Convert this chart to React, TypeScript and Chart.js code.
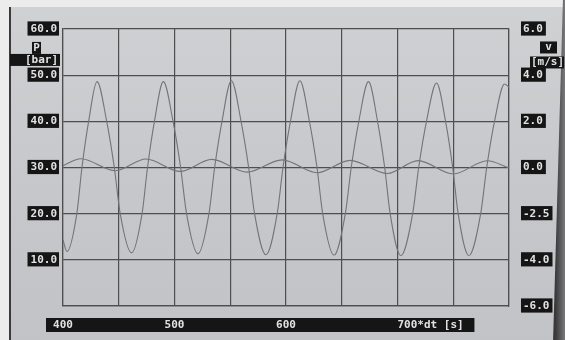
import React, { useEffect, useRef } from "react";
import { Chart, registerables } from "chart.js";

Chart.register(...registerables);

// Pressure p [bar] (left axis)
const pressureX = [
  400, 403.5, 412.4, 417, 423, 430.5, 439.2, 446, 451.3, 461.5,
  470.9, 475.8, 482, 490, 498.7, 505.5, 510.8, 521,
  530.9, 536, 542.6, 551, 559.7, 566.5, 571.8, 582,
  592.1, 597.3, 604, 612.5, 621, 627.8, 632.9, 643,
  653.2, 658.5, 665.3, 674, 682.1, 688.5, 693.4, 703,
  713.6, 719, 726, 735, 743.1, 749.5, 754.4, 764,
  774.6, 780, 787, 796, 800,
];
const pressureY = [
  14.3, 11.8, 20, 30, 40, 48.6, 40, 30, 20, 11.5,
  20, 30, 40, 48.6, 40, 30, 20, 11.3,
  20, 30, 40, 48.8, 40, 30, 20, 11.1,
  20, 30, 40, 48.8, 40, 30, 20, 11.0,
  20, 30, 40, 48.6, 40, 30, 20, 10.9,
  20, 30, 40, 48.3, 40, 30, 20, 10.9,
  20, 30, 40, 48.1, 47.4,
];

// Velocity v [m/s] (right axis)
const velocityX = [400, 416, 447, 474.5, 505, 533.5, 565, 596.5, 628, 657.5, 691, 718.5, 750, 780.5, 800];
const velocityY = [0.08, 0.38, -0.14, 0.37, -0.17, 0.35, -0.2, 0.33, -0.23, 0.31, -0.26, 0.3, -0.28, 0.29, -0.02];

// Tick labels
const xTickValues = [400, 500, 600, 700];
const xTickLabels = ["400", "500", "600", "700*dt [s]"];
const leftTickValues = [10, 20, 30, 40, 50, 60];
const leftTickLabels = ["10.0", "20.0", "30.0", "40.0", "50.0", "60.0"];
const rightTickValues = [-6, -4, -2, 0, 2, 4, 6];
const rightTickLabels = ["-6.0", "-4.0", "-2.5", "0.0", "2.0", "4.0", "6.0"];

const MONO = "'DejaVu Sans Mono', 'Liberation Mono', monospace";
const GRID = "#4e4e50";
const CURVE = "#747476";
const BOX = "#151515";
const LABEL = "#e2e2e2";

const decorPlugin = {
  id: "decor",
  beforeDraw(chart: any) {
    const { ctx } = chart;
    const x = chart.scales.x;
    ctx.save();
    ctx.fillStyle = BOX;
    const x0 = x.left - 17;
    const x1 = x.getPixelForValue(769);
    ctx.fillRect(x0, x.top + 12, x1 - x0, 14);
    ctx.restore();
  },
  afterDraw(chart: any) {
    const { ctx } = chart;
    const y = chart.scales.y;
    const v = chart.scales.v;
    ctx.save();
    ctx.font = `bold 11px ${MONO}`;
    ctx.textBaseline = "middle";
    // left axis title
    const pY = y.getPixelForValue(55.9);
    const bY = y.getPixelForValue(53.3);
    const lr = y.right - 5;
    ctx.fillStyle = BOX;
    ctx.fillRect(lr - 26, pY - 6, 9, 12);
    ctx.fillRect(10, bY - 6, lr - 8, 12);
    ctx.fillStyle = LABEL;
    ctx.textAlign = "center";
    ctx.fillText("P", lr - 21.5, pY);
    ctx.textAlign = "right";
    ctx.fillText("[bar]", lr, bY);
    // right axis title
    const vY = v.getPixelForValue(5.2);
    const mY = v.getPixelForValue(4.55);
    const rl = v.left + 14;
    ctx.fillStyle = BOX;
    ctx.fillRect(rl + 17, vY - 6, 17, 12);
    ctx.fillRect(rl + 7, mY - 6, 34, 12);
    ctx.fillStyle = LABEL;
    ctx.textAlign = "center";
    ctx.fillText("v", rl + 25.5, vY);
    ctx.textAlign = "left";
    ctx.fillText("[m/s]", rl + 8, mY);
    ctx.restore();
  },
};

export default function App() {
  const ref = useRef<HTMLCanvasElement | null>(null);

  useEffect(() => {
    if (!ref.current) return;
    const pData = pressureX.map((xv, i) => ({ x: xv, y: pressureY[i] }));
    const vData = velocityX.map((xv, i) => ({ x: xv, y: velocityY[i] }));
    const chart = new Chart(ref.current, {
      type: "line",
      data: {
        datasets: [
          {
            label: "p [bar]",
            data: pData,
            yAxisID: "y",
            borderColor: CURVE,
            borderWidth: 1.1,
            pointRadius: 0,
            cubicInterpolationMode: "monotone",
            fill: false,
          },
          {
            label: "v [m/s]",
            data: vData,
            yAxisID: "v",
            borderColor: CURVE,
            borderWidth: 1.1,
            pointRadius: 0,
            cubicInterpolationMode: "monotone",
            fill: false,
          },
        ],
      },
      options: {
        animation: false,
        responsive: false,
        maintainAspectRatio: false,
        layout: { padding: { top: 29, left: 0, right: 0, bottom: 0 } },
        plugins: { legend: { display: false }, tooltip: { enabled: false } },
        scales: {
          x: {
            type: "linear",
            min: 400,
            max: 800,
            afterFit: (s: any) => {
              s.height = 34;
            },
            grid: { color: GRID, lineWidth: 1.2, drawTicks: false },
            border: { display: true, color: GRID, width: 1.2 },
            ticks: {
              stepSize: 50,
              autoSkip: false,
              maxRotation: 0,
              padding: 13,
              color: LABEL,
              font: { family: MONO, size: 11, weight: "bold" },
              callback: (val: any) => {
                const i = xTickValues.indexOf(Number(val));
                if (i < 0) return "";
                const lab = xTickLabels[i];
                return i === xTickLabels.length - 1 ? " ".repeat(lab.length) + lab : lab;
              },
            },
          },
          y: {
            type: "linear",
            position: "left",
            min: 0,
            max: 60,
            afterFit: (s: any) => {
              s.width = 63;
            },
            grid: { color: GRID, lineWidth: 1.2, drawTicks: false },
            border: { display: true, color: GRID, width: 1.2 },
            ticks: {
              stepSize: 10,
              padding: 6,
              color: LABEL,
              font: { family: MONO, size: 11, weight: "bold" },
              showLabelBackdrop: true,
              backdropColor: (c: any) => (leftTickValues.indexOf(c.tick?.value) < 0 ? "rgba(0,0,0,0)" : BOX),
              backdropPadding: { left: 3, right: 2, top: 1, bottom: 0 },
              callback: (val: any) => {
                const i = leftTickValues.indexOf(Number(val));
                return i < 0 ? "" : leftTickLabels[i];
              },
            },
          },
          v: {
            type: "linear",
            position: "right",
            min: -6,
            max: 6,
            afterFit: (s: any) => {
              s.width = 56;
            },
            grid: { display: false, drawTicks: false },
            border: { display: true, color: GRID, width: 1.2 },
            ticks: {
              stepSize: 2,
              padding: 14,
              color: LABEL,
              font: { family: MONO, size: 11, weight: "bold" },
              showLabelBackdrop: true,
              backdropColor: BOX,
              backdropPadding: { left: 2, right: 3, top: 1, bottom: 0 },
              callback: (val: any) => {
                const i = rightTickValues.indexOf(Number(val));
                return i < 0 ? "" : rightTickLabels[i];
              },
            },
          },
        },
      } as any,
      plugins: [decorPlugin],
    });
    return () => chart.destroy();
  }, []);

  return (
    <div
      style={{
        position: "fixed",
        left: 0,
        top: 0,
        width: 565,
        height: 340,
        background: "#ececec",
        overflow: "hidden",
      }}
    >
      <div
        style={{
          position: "absolute",
          left: 9,
          top: 7,
          right: 0,
          bottom: 0,
          background: "linear-gradient(180deg, #d0d1d3 0%, #c7c8cb 50%, #c2c3c6 100%)",
          borderLeft: "2px solid #3a3a3c",
        }}
      />
      <div
        style={{
          position: "absolute",
          left: 548,
          top: 0,
          width: 17,
          height: 340,
          background: "linear-gradient(90deg, #2a2a2c 0%, #3a3a3c 45%, #7a7a7c 100%)",
          clipPath: "polygon(88% 0, 100% 0, 100% 100%, 30% 100%)",
        }}
      />
      <canvas
        ref={ref}
        width={565}
        height={340}
        style={{ position: "absolute", left: 0, top: 0, width: 565, height: 340 }}
      />
    </div>
  );
}
